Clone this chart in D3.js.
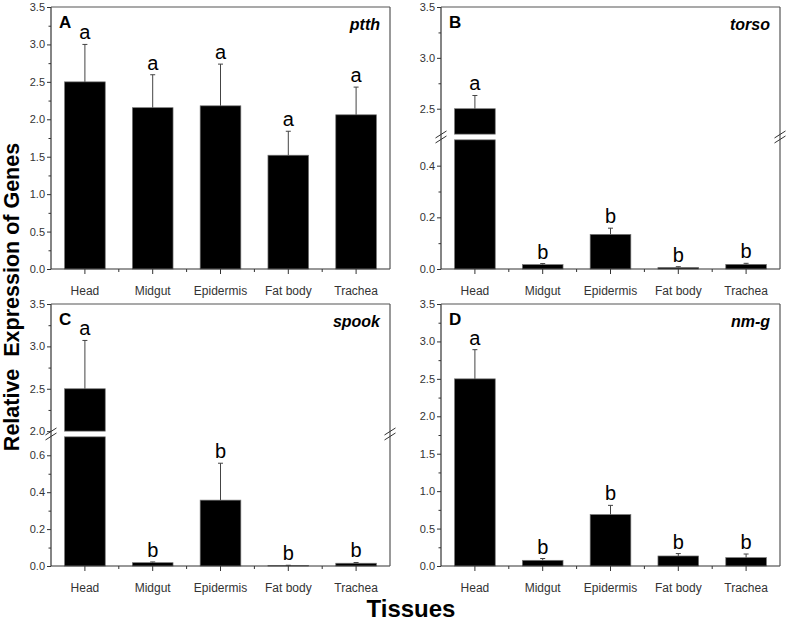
<!DOCTYPE html>
<html>
<head>
<meta charset="utf-8">
<script src="https://cdn.jsdelivr.net/npm/d3@7"></script>
<style>
body { margin: 0; background: #fff; }
svg { font-family: "Liberation Sans", Arial, sans-serif; }
.axis line { stroke: #333; }
.axis path { display: none; }
.axis text { fill: #333; font-size: 11px; }
.xaxis text { font-size: 12px; }
</style>
</head>
<body>
<script>
// tissues on the x axis
var tissues = ["Head", "Midgut", "Epidermis", "Fat body", "Trachea"];

// A - ptth
var ptthMean = [2.50, 2.155, 2.18, 1.52, 2.06];
var ptthSd   = [0.50, 0.44, 0.557, 0.32, 0.37];
var ptthSig  = ["a", "a", "a", "a", "a"];

// B - torso
var torsoMean = [2.50, 0.017, 0.134, 0.006, 0.018];
var torsoSd   = [0.13, 0.004, 0.024, 0.003, 0.004];
var torsoSig  = ["a", "b", "b", "b", "b"];

// C - spook
var spookMean = [2.50, 0.018, 0.357, 0.003, 0.015];
var spookSd   = [0.57, 0.004, 0.20, 0.001, 0.004];
var spookSig  = ["a", "b", "b", "b", "b"];

// D - nm-g
var nmgMean = [2.50, 0.076, 0.687, 0.134, 0.112];
var nmgSd   = [0.39, 0.024, 0.123, 0.032, 0.048];
var nmgSig  = ["a", "b", "b", "b", "b"];

// y tick values
var fullTicks = [0, 0.5, 1.0, 1.5, 2.0, 2.5, 3.0, 3.5];
var fullMinor = [0.25, 0.75, 1.25, 1.75, 2.25, 2.75, 3.25];
var bLowTicks = [0, 0.2, 0.4];
var bLowMinor = [0.1, 0.3];
var bHighTicks = [2.5, 3.0, 3.5];
var bHighMinor = [2.75, 3.25];
var cLowTicks = [0, 0.2, 0.4, 0.6];
var cLowMinor = [0.1, 0.3, 0.5];
var cHighTicks = [2.0, 2.5, 3.0, 3.5];
var cHighMinor = [2.25, 2.75, 3.25];

var W = 787, H = 621;
var pw = 339, ph = 262;
var lowFrac = 0.493, gap = 5.7;

var panels = [
  {tag: "A", gene: "ptth", mean: ptthMean, sd: ptthSd, sig: ptthSig, left: 51, top: 7,
   segs: [{domain: [0, 3.5], ticks: fullTicks, minor: fullMinor}]},
  {tag: "B", gene: "torso", mean: torsoMean, sd: torsoSd, sig: torsoSig, left: 441, top: 7,
   segs: [{domain: [0, 0.5], ticks: bLowTicks, minor: bLowMinor},
          {domain: [2.25, 3.5], ticks: bHighTicks, minor: bHighMinor}]},
  {tag: "C", gene: "spook", mean: spookMean, sd: spookSd, sig: spookSig, left: 51, top: 304,
   segs: [{domain: [0, 0.7], ticks: cLowTicks, minor: cLowMinor},
          {domain: [2.0, 3.5], ticks: cHighTicks, minor: cHighMinor}]},
  {tag: "D", gene: "nm-g", mean: nmgMean, sd: nmgSd, sig: nmgSig, left: 441, top: 304,
   segs: [{domain: [0, 3.5], ticks: fullTicks, minor: fullMinor}]}
];

var svg = d3.select("body").append("svg")
    .attr("width", W)
    .attr("height", H);

var x = d3.scaleBand()
    .domain(tissues)
    .range([0, pw])
    .padding(0);

var barW = x.bandwidth() * 0.6;

panels.forEach(function(p) {
  var g = svg.append("g")
      .attr("transform", "translate(" + p.left + "," + p.top + ")");

  // y scales for each segment of the (maybe broken) axis
  if (p.segs.length == 1) {
    p.segs[0].y = d3.scaleLinear().domain(p.segs[0].domain).range([ph, 0]);
  } else {
    var split = ph - ph * lowFrac;
    p.segs[0].y = d3.scaleLinear().domain(p.segs[0].domain).range([ph, split]);
    p.segs[1].y = d3.scaleLinear().domain(p.segs[1].domain).range([split - gap, 0]);
  }

  // bars, clipped into every segment they reach
  p.segs.forEach(function(s) {
    g.selectAll(null)
      .data(tissues)
      .enter().append("rect")
      .filter(function(d, i) { return p.mean[i] > s.domain[0]; })
      .attr("x", function(d) { return x(d) + (x.bandwidth() - barW) / 2; })
      .attr("width", barW)
      .attr("y", function(d) { return s.y(Math.min(p.mean[tissues.indexOf(d)], s.domain[1])); })
      .attr("height", function(d) {
        var v = Math.min(p.mean[tissues.indexOf(d)], s.domain[1]);
        return Math.max(s.y(s.domain[0]) - s.y(v), 0.6);
      })
      .attr("fill", "#000")
      .attr("stroke", "#777")
      .attr("stroke-width", 0.7);
  });

  // error bars + letters
  tissues.forEach(function(t, i) {
    var m = p.mean[i], top = m + p.sd[i];
    var s = p.segs.filter(function(s) { return m >= s.domain[0] && m <= s.domain[1]; })[0];
    var cx = x(t) + x.bandwidth() / 2;
    g.append("line")
      .attr("x1", cx).attr("x2", cx)
      .attr("y1", s.y(m)).attr("y2", s.y(top))
      .attr("stroke", "#444").attr("stroke-width", 1);
    g.append("line")
      .attr("x1", cx - 2.5).attr("x2", cx + 2.5)
      .attr("y1", s.y(top)).attr("y2", s.y(top))
      .attr("stroke", "#444").attr("stroke-width", 1);
    g.append("text")
      .attr("x", cx)
      .attr("y", s.y(top) - 5)
      .attr("text-anchor", "middle")
      .style("font-size", "20px")
      .attr("fill", "#000")
      .text(p.sig[i]);
  });

  // y axis ticks for each segment
  p.segs.forEach(function(s) {
    g.append("g")
      .attr("class", "axis")
      .call(d3.axisLeft(s.y).tickValues(s.ticks).tickSize(4).tickPadding(2)
        .tickFormat(d3.format(".1f")));
    g.append("g")
      .attr("class", "axis")
      .call(d3.axisLeft(s.y).tickValues(s.minor).tickSize(2.5).tickFormat(""));
  });

  // x axis
  g.append("g")
    .attr("class", "axis xaxis")
    .attr("transform", "translate(0," + ph + ")")
    .call(d3.axisBottom(x).tickSize(5).tickPadding(12.5));
  g.append("g")
    .attr("class", "axis")
    .attr("transform", "translate(0," + ph + ")")
    .selectAll("line")
    .data(tissues.slice(1))
    .enter().append("line")
    .attr("x1", function(d) { return x(d); })
    .attr("x2", function(d) { return x(d); })
    .attr("y1", 0).attr("y2", 3);

  // frame
  g.append("line").attr("x1", 0).attr("x2", 0).attr("y1", 0).attr("y2", ph)
    .attr("stroke", "#333").attr("stroke-width", 1.2);
  g.append("line").attr("x1", 0).attr("x2", pw).attr("y1", ph).attr("y2", ph)
    .attr("stroke", "#333").attr("stroke-width", 1.2);
  g.append("line").attr("x1", 0).attr("x2", pw).attr("y1", 0).attr("y2", 0)
    .attr("stroke", "#555").attr("stroke-width", 1.2);
  g.append("line").attr("x1", pw).attr("x2", pw).attr("y1", 0).attr("y2", ph)
    .attr("stroke", "#555").attr("stroke-width", 1.2);

  // break marks
  if (p.segs.length > 1) {
    var yb = ph - ph * lowFrac - gap / 2;
    [0, pw].forEach(function(ax) {
      [-2.5, 2.5].forEach(function(o) {
        g.append("line")
          .attr("x1", ax - 5.5).attr("x2", ax + 5.5)
          .attr("y1", yb + o + 3.5).attr("y2", yb + o - 3.5)
          .attr("stroke", "#333").attr("stroke-width", 1);
      });
    });
  }

  // panel tag and gene
  g.append("text")
    .attr("x", 8).attr("y", 21)
    .style("font-size", "17px").style("font-weight", "bold")
    .text(p.tag);
  g.append("text")
    .attr("x", pw - 10).attr("y", 23)
    .attr("text-anchor", "end")
    .style("font-size", "16px").style("font-weight", "bold").style("font-style", "italic")
    .text(p.gene);
});

// axis titles
svg.append("text")
  .attr("transform", "translate(19,297) rotate(-90)")
  .attr("text-anchor", "middle")
  .style("font-size", "21.5px").style("font-weight", "bold")
  .style("white-space", "pre")
  .text("Relative  Expression of Genes");

svg.append("text")
  .attr("x", 411).attr("y", 617)
  .attr("text-anchor", "middle")
  .style("font-size", "24px").style("font-weight", "bold")
  .text("Tissues");
</script>
</body>
</html>
